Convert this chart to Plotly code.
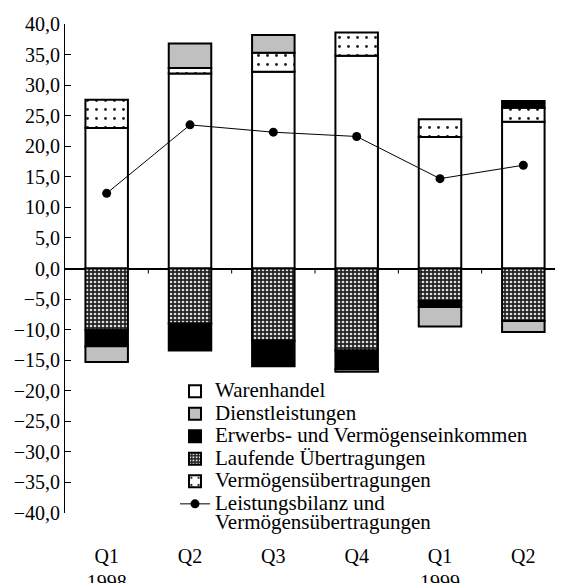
import plotly.graph_objects as go

quarters = ["Q1<br>1998", "Q2", "Q3", "Q4", "Q1<br>1999", "Q2"]
warenhandel = [23.0, 31.9, 32.2, 34.8, 21.5, 24.0]
dienstleistungen = [-2.6, 4.0, 2.9, -0.4, -3.2, -1.8]
erwerbs = [-2.6, -4.4, -4.2, -3.1, -1.0, 1.1]
laufende = [-10.1, -9.0, -11.8, -13.4, -5.3, -8.6]
vermoegen = [4.6, 0.9, 3.1, 3.8, 2.9, 2.3]
leistungsbilanz = [12.3, 23.5, 22.3, 21.6, 14.7, 16.9]
y_ticks = [-40, -35, -30, -25, -20, -15, -10, -5, 0, 5, 10, 15, 20, 25, 30, 35, 40]

xs = list(range(len(quarters)))
FONT = "Liberation Serif, Times New Roman, serif"
outline = dict(color="black", width=2)
bw = 0.51


def lg(text):
    # legend label rendered at a larger size than the legend's base font
    return "<br>".join('<span style="font-size:21px">%s</span>' % t for t in text.split("\n"))


fig = go.Figure()
# trace order controls stacking; legendrank controls legend order
fig.add_trace(go.Bar(x=xs, y=warenhandel, name=lg("Warenhandel"), width=bw,
                     marker=dict(color="white", line=outline), legendrank=1))
fig.add_trace(go.Bar(x=xs, y=laufende, name=lg("Laufende Übertragungen"), width=bw,
                     marker=dict(color="#222222", line=outline,
                                 pattern=dict(shape=".", bgcolor="#222222", fgcolor="#dddddd",
                                              size=4, solidity=0.35, fillmode="replace")),
                     legendrank=4))
fig.add_trace(go.Bar(x=xs, y=vermoegen, name=lg("Vermögensübertragungen"), width=bw,
                     marker=dict(color="white", line=outline,
                                 pattern=dict(shape=".", bgcolor="white", fgcolor="#222222",
                                              size=9, solidity=0.08, fillmode="replace")),
                     legendrank=5))
fig.add_trace(go.Bar(x=xs, y=erwerbs, name=lg("Erwerbs- und Vermögenseinkommen"), width=bw,
                     marker=dict(color="black", line=outline), legendrank=3))
fig.add_trace(go.Bar(x=xs, y=dienstleistungen, name=lg("Dienstleistungen"), width=bw,
                     marker=dict(color="#c0c0c0", line=outline), legendrank=2))
fig.add_trace(go.Scatter(x=xs, y=leistungsbilanz, mode="lines+markers",
                         name=lg("Leistungsbilanz und\nVermögensübertragungen"),
                         line=dict(color="black", width=1),
                         marker=dict(color="black", size=9), legendrank=6))

# small ticks on the zero line between categories
for i in range(len(quarters) - 1):
    fig.add_shape(type="line", xref="x", yref="y", x0=i + 0.5, x1=i + 0.5,
                  ysizemode="pixel", yanchor=0, y0=0, y1=-5,
                  line=dict(color="black", width=1))

fig.update_layout(
    width=563, height=583,
    margin=dict(l=57, r=6, t=16, b=78),
    barmode="relative",
    separators=",.",
    plot_bgcolor="white", paper_bgcolor="white",
    font=dict(family=FONT, size=20, color="black"),
    showlegend=True,
    legend=dict(x=0.22, y=0.282, xanchor="left", yanchor="top", valign="top",
                bgcolor="rgba(0,0,0,0)", tracegroupgap=0,
                font=dict(family=FONT, size=15, color="black")),
    xaxis=dict(range=[-0.5, len(quarters) - 0.5], tickvals=xs, ticktext=quarters,
               showline=False, showgrid=False, zeroline=False, ticks="",
               ticklabelstandoff=29, automargin=False),
    yaxis=dict(range=[-40, 40], tickvals=y_ticks, tickformat=".1f",
               showline=True, linecolor="black", linewidth=1,
               ticks="inside", ticklen=6, tickcolor="black", automargin=False,
               showgrid=False, zeroline=True, zerolinecolor="black", zerolinewidth=1.5),
)

fig.write_html("out.html")
